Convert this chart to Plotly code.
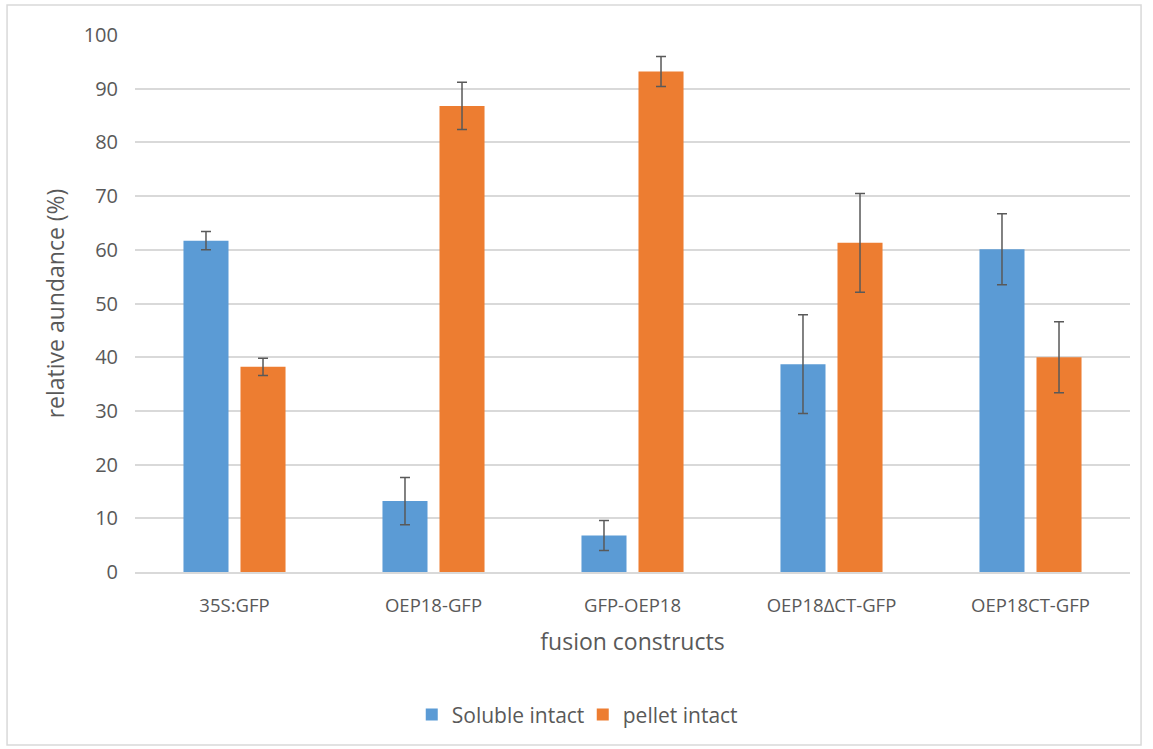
import plotly.graph_objects as go

categories = ["35S:GFP", "OEP18-GFP", "GFP-OEP18", "OEP18\u0394CT-GFP", "OEP18CT-GFP"]
soluble = [61.7, 13.2, 6.8, 38.7, 60.1]
soluble_err = [1.7, 4.4, 2.8, 9.2, 6.6]
pellet = [38.2, 86.8, 93.2, 61.3, 40.0]
pellet_err = [1.6, 4.4, 2.8, 9.2, 6.6]

FONT = "Open Sans"
GRAY = "#595959"

fig = go.Figure()
fig.add_trace(go.Bar(name="Soluble intact", x=categories, y=soluble,
                     marker=dict(color="#5B9BD5", line=dict(width=0)),
                     error_y=dict(type="data", array=soluble_err, color=GRAY, thickness=1.5, width=5)))
fig.add_trace(go.Bar(name="pellet intact", x=categories, y=pellet,
                     marker=dict(color="#ED7D31", line=dict(width=0)),
                     error_y=dict(type="data", array=pellet_err, color=GRAY, thickness=1.5, width=5)))

fig.update_layout(
    width=1153, height=749,
    margin=dict(l=135, r=23, t=35, b=177),
    paper_bgcolor="white", plot_bgcolor="white",
    barmode="group", bargap=0.427, bargroupgap=0.21,
    font=dict(family=FONT, color=GRAY, size=18),
    showlegend=True,
    legend=dict(orientation="h", x=0.45, xanchor="center", y=-0.266, yanchor="middle",
                font=dict(size=21, color=GRAY), traceorder="normal", itemwidth=30,
                entrywidth=126),
    xaxis=dict(showgrid=False, showline=True, linecolor="#d9d9d9", linewidth=1.5,
               tickfont=dict(size=18.5, color=GRAY), ticks="", ticklabelstandoff=16,
               title=dict(text="fusion constructs", font=dict(size=23, color=GRAY), standoff=18)),
    yaxis=dict(range=[0, 100], dtick=10, showgrid=True, gridcolor="#d9d9d9", gridwidth=1.5,
               zeroline=False, showline=False, ticks="", ticklabelstandoff=16,
               tickfont=dict(size=20, color=GRAY),
               title=dict(text="relative aundance (%)", font=dict(size=23, color=GRAY), standoff=12)),
    shapes=[dict(type="rect", xref="paper", yref="paper",
                 x0=-0.1286, x1=1.0111, y0=-0.322, y1=1.0559,
                 line=dict(color="#d9d9d9", width=1.5), fillcolor="rgba(0,0,0,0)", layer="below")],
)

fig.write_html("out.html", config={"displayModeBar": False},
               post_script="document.body.style.margin='0';document.body.style.overflow='hidden';")
